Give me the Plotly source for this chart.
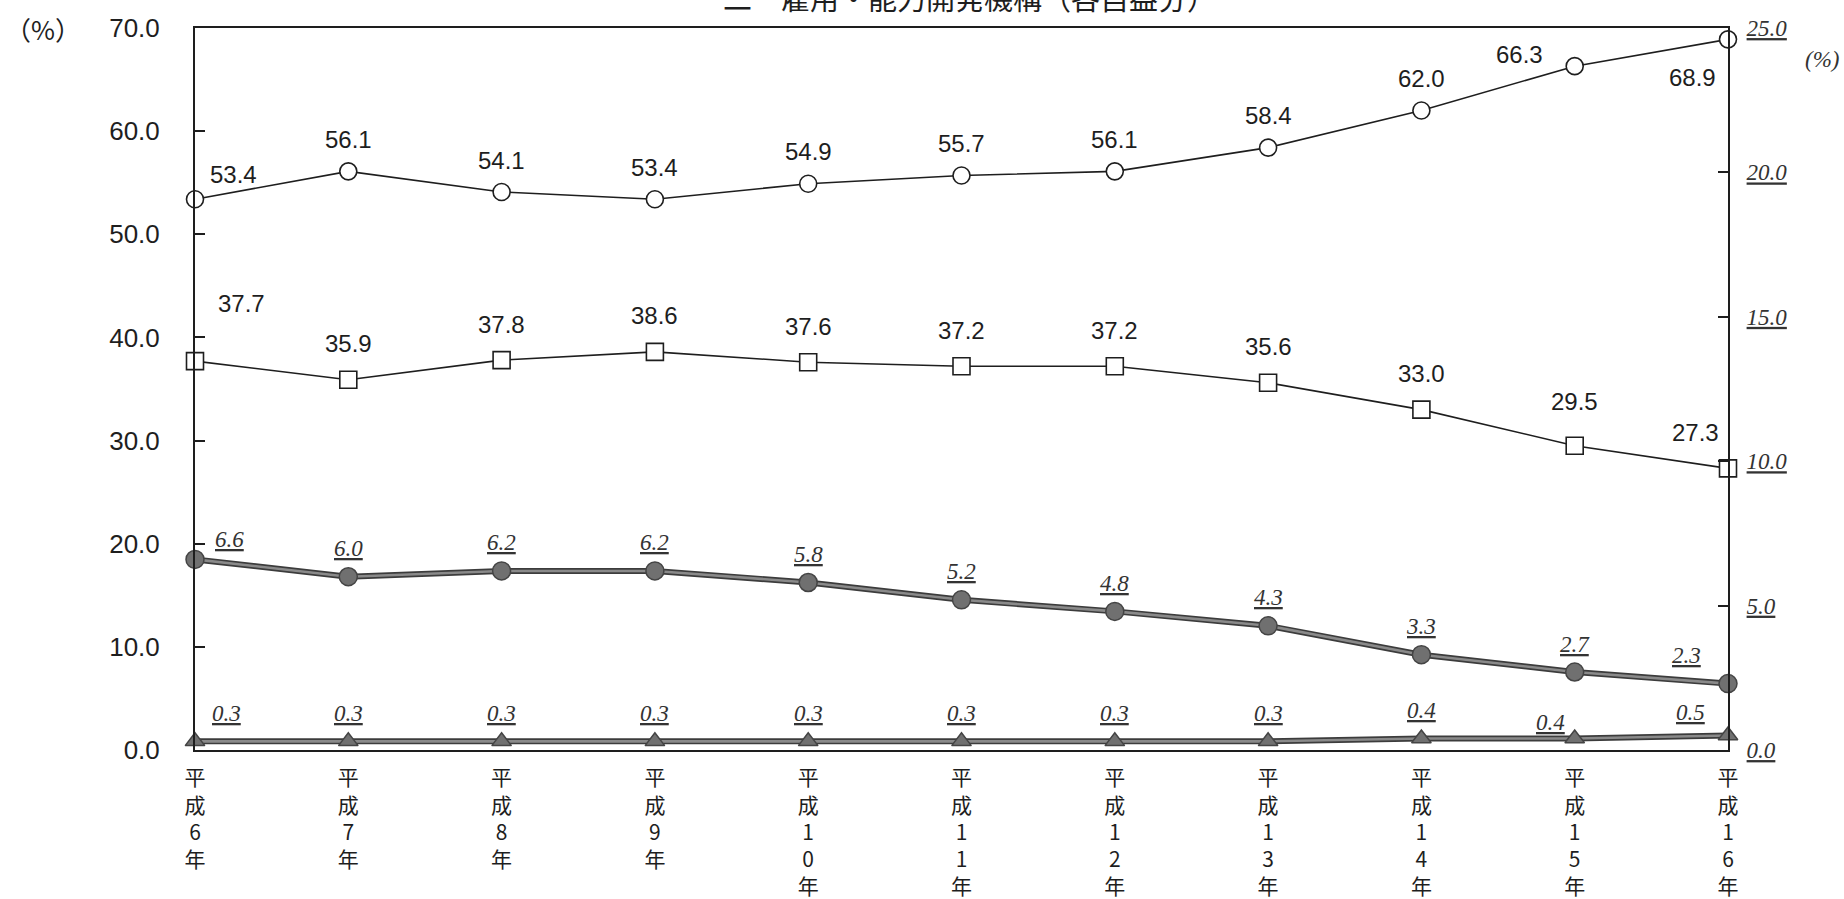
import plotly.graph_objects as go

# ---- data ----
years = ["平<br>成<br>6<br>年", "平<br>成<br>7<br>年", "平<br>成<br>8<br>年", "平<br>成<br>9<br>年",
         "平<br>成<br>1<br>0<br>年", "平<br>成<br>1<br>1<br>年", "平<br>成<br>1<br>2<br>年",
         "平<br>成<br>1<br>3<br>年", "平<br>成<br>1<br>4<br>年", "平<br>成<br>1<br>5<br>年",
         "平<br>成<br>1<br>6<br>年"]
open_circle = [53.4, 56.1, 54.1, 53.4, 54.9, 55.7, 56.1, 58.4, 62.0, 66.3, 68.9]
open_square = [37.7, 35.9, 37.8, 38.6, 37.6, 37.2, 37.2, 35.6, 33.0, 29.5, 27.3]
gray_circle = [6.6, 6.0, 6.2, 6.2, 5.8, 5.2, 4.8, 4.3, 3.3, 2.7, 2.3]
gray_triangle = [0.3, 0.3, 0.3, 0.3, 0.3, 0.3, 0.3, 0.3, 0.4, 0.4, 0.5]
left_ticks = [0, 10, 20, 30, 40, 50, 60, 70]
right_ticks = [0, 5, 10, 15, 20, 25]
title_text = "二　雇用・能力開発機構（各自益分）"

x = list(range(len(years)))

# label offsets in pixels (xshift, yshift)
off_circle = [(38, 25)] + [(0, 32)] * 8 + [(-55, 12), (-36, -38)]
off_square = [(46, 58)] + [(0, 36)] * 8 + [(0, 44), (-33, 36)]
off_gray = [(34, 20)] + [(0, 28)] * 9 + [(-42, 28)]
off_tri = [(31, 28)] + [(0, 28)] * 8 + [(-24, 16), (-38, 23)]

SANS = "Liberation Sans, Arial, sans-serif"
SERIF = "Liberation Serif, Times New Roman, serif"
CJK = "Noto Sans CJK JP, sans-serif"
INK = "#1e1e1e"

fig = go.Figure()

fig.add_trace(go.Scatter(x=x, y=open_circle, mode="lines+markers", cliponaxis=False,
                         line=dict(color=INK, width=1.6),
                         marker=dict(symbol="circle", size=17, color="white",
                                     line=dict(color=INK, width=1.6)),
                         showlegend=False))
fig.add_trace(go.Scatter(x=x, y=open_square, mode="lines+markers", cliponaxis=False,
                         line=dict(color=INK, width=1.6),
                         marker=dict(symbol="square", size=17, color="white",
                                     line=dict(color=INK, width=1.6)),
                         showlegend=False))
# gray series on right axis (double-edged thick lines)
for vals, sym, sz in [(gray_circle, "circle", 18), (gray_triangle, "triangle-up", 17)]:
    fig.add_trace(go.Scatter(x=x, y=vals, yaxis="y2", mode="lines", cliponaxis=False,
                             line=dict(color="#3c3c3c", width=6), showlegend=False))
    fig.add_trace(go.Scatter(x=x, y=vals, yaxis="y2", mode="lines+markers", cliponaxis=False,
                             line=dict(color="#8a8a8a", width=2.6),
                             marker=dict(symbol=sym, size=sz, color="#707070",
                                         line=dict(color="#444444", width=1.5)),
                             showlegend=False))

ann = []
for vals, offs in [(open_circle, off_circle), (open_square, off_square)]:
    for i, v in enumerate(vals):
        ann.append(dict(x=i, y=v, xref="x", yref="y", text=f"{v:.1f}", showarrow=False,
                        xshift=offs[i][0], yshift=offs[i][1],
                        font=dict(family=SANS, size=24, color=INK)))
for vals, offs in [(gray_circle, off_gray), (gray_triangle, off_tri)]:
    for i, v in enumerate(vals):
        ann.append(dict(x=i, y=v, xref="x", yref="y2", text=f"{v:.1f}", showarrow=False,
                        xshift=offs[i][0], yshift=offs[i][1],
                        font=dict(family=SERIF, size=23, color="#333333",
                                  style="italic", lineposition="under")))

ann.append(dict(x=-0.099, y=1.0, xref="paper", yref="paper", text="（%）", showarrow=False,
                xanchor="center", yanchor="middle", font=dict(family=CJK, size=26, color=INK)))
ann.append(dict(x=1.061, y=0.956, xref="paper", yref="paper", text="(%)", showarrow=False,
                xanchor="center", yanchor="middle",
                font=dict(family=SERIF, size=23, color="#333333", style="italic")))
ann.append(dict(x=0.505, y=1.043, xref="paper", yref="paper", text=title_text, showarrow=False,
                xanchor="center", yanchor="middle", font=dict(family=CJK, size=29, color=INK)))

fig.update_layout(
    width=1844, height=899,
    margin=dict(l=195, r=116, t=28, b=149),
    paper_bgcolor="white", plot_bgcolor="white",
    annotations=ann,
    xaxis=dict(range=[0, 10], tickvals=x, ticktext=years, showgrid=False, zeroline=False,
               showline=True, mirror=True, linecolor=INK, linewidth=2, ticks="",
               tickfont=dict(family=CJK, size=21, color=INK), tickangle=0,
               ticklabelstandoff=8, automargin=False),
    yaxis=dict(range=[0, 70], tickvals=left_ticks, tickformat=".1f", showgrid=False,
               zeroline=False, showline=True, linecolor=INK, linewidth=2,
               ticks="inside", ticklen=10, tickwidth=2, tickcolor=INK,
               tickfont=dict(family=SANS, size=26, color=INK), ticklabelstandoff=28,
               automargin=False),
    yaxis2=dict(range=[0, 25], tickvals=right_ticks, tickformat=".1f", overlaying="y",
                side="right", showgrid=False, zeroline=False, showline=True,
                linecolor=INK, linewidth=2, ticks="inside", ticklen=10, tickwidth=2,
                tickcolor=INK, ticklabelstandoff=12, automargin=False,
                tickfont=dict(family=SERIF, size=23, color="#333333", style="italic",
                              lineposition="under")),
)

fig.write_html("out.html", config={"displayModeBar": False},
               post_script="document.body.style.margin='0';document.body.style.overflow='hidden';")
